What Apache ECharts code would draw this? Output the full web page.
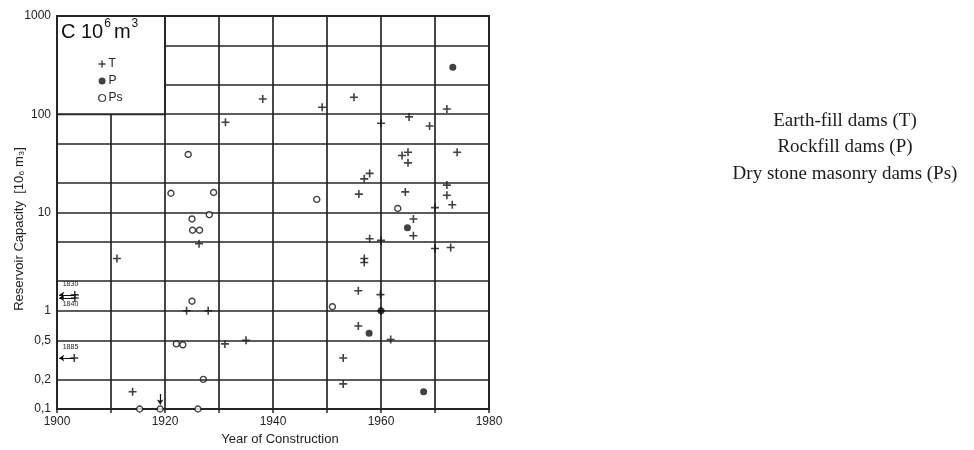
<!DOCTYPE html>
<html>
<head>
<meta charset="utf-8">
<script src="https://cdn.jsdelivr.net/npm/echarts@6/dist/echarts.min.js"></script>
<style>
  html, body { margin: 0; padding: 0; background: #ffffff; }
  #chart { width: 974px; height: 450px; }
</style>
</head>
<body>
<div id="chart"></div>
<script>
// Reservoir capacity (10^6 m3) against year of construction, by dam type.
// Each point: [year, capacity]
const earthFill = [
  [1903.3, 1.45], [1903.3, 1.35], [1903.2, 0.33],
  [1911.1, 3.4], [1914.0, 0.15],
  [1924.0, 1.0], [1928.0, 1.0], [1926.3, 4.8],
  [1931.1, 0.46], [1931.2, 83], [1935.0, 0.5], [1938.1, 143],
  [1949.1, 118],
  [1953.0, 0.33], [1953.0, 0.18],
  [1955.0, 149], [1955.8, 1.6], [1955.8, 0.70], [1955.9, 15.4],
  [1956.9, 22], [1957.9, 25], [1956.9, 3.4], [1956.9, 3.1], [1957.9, 5.4],
  [1959.9, 1.46], [1960.0, 1.0], [1960.0, 5.2], [1960.0, 81],
  [1961.8, 0.51],
  [1963.9, 38], [1965.0, 41], [1965.0, 32], [1964.5, 16.2], [1965.2, 94],
  [1966.0, 8.6], [1966.0, 5.8],
  [1969.0, 76], [1970.0, 11.2], [1970.0, 4.3],
  [1972.2, 113], [1972.2, 19], [1972.2, 15], [1973.2, 12], [1972.9, 4.4],
  [1974.1, 41]
];
const rockfill = [
  [1957.8, 0.59], [1960.0, 1.0], [1964.9, 7.0], [1967.9, 0.15], [1973.3, 300]
];
const dryStone = [
  [1915.3, 0.1], [1919.1, 0.1], [1926.1, 0.1], [1927.1, 0.2],
  [1922.1, 0.46], [1923.3, 0.45], [1925.0, 1.25],
  [1925.0, 8.6], [1925.1, 6.6], [1926.4, 6.6], [1928.2, 9.5],
  [1921.1, 15.7], [1929.0, 16], [1924.3, 39],
  [1948.1, 13.6], [1951.0, 1.1], [1963.1, 11]
];

// Dams older than the axis range: year written beside the point
const earlyDams = [
  { year: 1902.5, value: 1.85, label: '1830' },
  { year: 1902.5, value: 1.16, label: '1840' },
  { year: 1902.5, value: 0.43, label: '1885' }
];
// Arrows pointing back in time: [fromYear, toYear, value]
const earlyArrows = [
  [1903.3, 1900.4, 1.45],
  [1903.3, 1900.4, 1.35],
  [1903.2, 1900.4, 0.33]
];

// Axis setup
const yearMin = 1900, yearMax = 1980, yearStep = 10, yearLabelStep = 20;
const capMin = 0.1, capMax = 1000;
const intermediateLevels = [0.2, 0.5, 2, 5, 20, 50];
const upperLevels = [200, 500];
const labelledLevels = [0.2, 0.5];
const legendBox = [[1900, 100], [1920, 1000]];

const seriesNames = ['T', 'P', 'Ps'];
const sideNotes = ['Earth-fill dams (T)', 'Rockfill dams (P)', 'Dry stone masonry dams (Ps)'];

const ink = '#111111';
const gridInk = '#262626';
const plusPath = 'path://M4,0H6V4H10V6H6V10H4V6H0V4H4Z';
const fmt = v => String(v).replace('.', ',');

const chart = echarts.init(document.getElementById('chart'), null, { renderer: 'canvas' });

const levelLines = intermediateLevels.map(v => ({
  yAxis: v,
  label: labelledLevels.includes(v)
    ? { show: true, position: 'start', distance: 6, formatter: fmt(v),
        color: '#222', fontSize: 12, fontFamily: 'Liberation Sans, Arial, sans-serif' }
    : { show: false }
}));
const upperLines = upperLevels.map(v => [{ coord: [1920, v] }, { coord: [yearMax, v] }]);
const arrowLines = earlyArrows.map(a => [
  { coord: [a[0], a[2]], symbol: 'none', lineStyle: { width: 1, color: ink } },
  { coord: [a[1], a[2]], symbol: 'arrow', symbolSize: 5 }
]);
const dropArrow = [[
  { coord: [1919.1, 0.142], symbol: 'none', lineStyle: { width: 1.2, color: ink } },
  { coord: [1919.1, 0.111], symbol: 'arrow', symbolSize: 5 }
]];

chart.setOption({
  animation: false,
  backgroundColor: '#ffffff',
  grid: {
    left: 57, right: 485, top: 16, bottom: 41,
    show: true, borderColor: gridInk, borderWidth: 2, backgroundColor: 'transparent'
  },
  legend: {
    data: [
      { name: 'T', icon: plusPath, itemStyle: { color: ink } },
      { name: 'P', icon: 'circle', itemStyle: { color: ink } },
      { name: 'Ps', icon: 'circle', itemStyle: { color: '#fff', borderColor: ink, borderWidth: 1.2 } }
    ],
    orient: 'vertical', left: 93, top: 53,
    itemWidth: 7, itemHeight: 7, itemGap: 5,
    selectedMode: false,
    textStyle: { fontSize: 12, color: '#222', fontFamily: 'Liberation Sans, Arial, sans-serif', padding: [0, 0, 0, -2] }
  },
  xAxis: {
    type: 'value', min: yearMin, max: yearMax, interval: yearStep,
    axisLine: { show: true, lineStyle: { color: gridInk, width: 2 } },
    axisTick: { show: true, length: 4, lineStyle: { color: gridInk, width: 1.5 } },
    splitLine: { show: true, lineStyle: { color: gridInk, width: 1.7 } },
    axisLabel: {
      margin: 7, color: '#222', fontSize: 12, fontFamily: 'Liberation Sans, Arial, sans-serif',
      formatter: v => (v % yearLabelStep === 0 ? String(v) : '')
    }
  },
  yAxis: {
    type: 'log', logBase: 10, min: capMin, max: capMax,
    axisLine: { show: true, lineStyle: { color: gridInk, width: 2 } },
    axisTick: { show: false },
    splitLine: { show: true, lineStyle: { color: gridInk, width: 1.7 } },
    axisLabel: {
      margin: 6, color: '#222', fontSize: 12, fontFamily: 'Liberation Sans, Arial, sans-serif',
      formatter: v => fmt(+v.toPrecision(6))
    }
  },
  series: [
    {
      name: 'T', type: 'scatter', data: earthFill, clip: false,
      symbol: plusPath, symbolSize: 8,
      itemStyle: { color: ink },
      markArea: {
        silent: true,
        itemStyle: { color: '#ffffff', borderColor: gridInk, borderWidth: 2 },
        data: [[{ coord: legendBox[0] }, { coord: legendBox[1] }]]
      },
      markLine: {
        silent: true, symbol: 'none',
        lineStyle: { color: gridInk, width: 1.7, type: 'solid' },
        label: { show: false },
        data: [...levelLines, ...upperLines, ...arrowLines, ...dropArrow]
      },
      markPoint: {
        silent: true, symbol: 'circle', symbolSize: 1,
        itemStyle: { color: 'rgba(0,0,0,0)' },
        label: { show: true, position: 'inside', formatter: p => p.data.label,
                 fontSize: 7, color: '#222', fontFamily: 'Liberation Sans, Arial, sans-serif' },
        data: earlyDams.map(d => ({ coord: [d.year, d.value], label: d.label }))
      }
    },
    {
      name: 'P', type: 'scatter', data: rockfill, clip: false,
      symbol: 'circle', symbolSize: 7,
      itemStyle: { color: ink }
    },
    {
      name: 'Ps', type: 'scatter', data: dryStone, clip: false,
      symbol: 'circle', symbolSize: 6,
      itemStyle: { color: '#ffffff', borderColor: ink, borderWidth: 1.4 }
    }
  ],
  graphic: [
    {
      type: 'text', left: 61, top: 18, z: 100,
      style: {
        text: '{a|C 10}{s|6}{a|m}{s|3}',
        rich: {
          a: { fontSize: 20, fontFamily: 'Liberation Sans, Arial, sans-serif', fill: '#111', lineHeight: 24, verticalAlign: 'bottom' },
          s: { fontSize: 12, fontFamily: 'Liberation Sans, Arial, sans-serif', fill: '#111', lineHeight: 24, verticalAlign: 'top', padding: [0, 3, 0, 1] }
        }
      }
    },
    {
      type: 'text', x: 19, y: 229, rotation: Math.PI / 2, z: 100,
      style: {
        text: 'Reservoir Capacity  [10\u2086 m\u2083]',
        fontSize: 13, fontFamily: 'Liberation Sans, Arial, sans-serif', fill: '#222',
        textAlign: 'center', textVerticalAlign: 'middle'
      }
    },
    {
      type: 'text', x: 280, y: 439, z: 100,
      style: {
        text: 'Year of Construction',
        fontSize: 13, fontFamily: 'Liberation Sans, Arial, sans-serif', fill: '#222',
        textAlign: 'center', textVerticalAlign: 'middle'
      }
    },
    ...sideNotes.map((t, i) => ({
      type: 'text', x: 845, y: 121 + i * 26.5, z: 100,
      style: {
        text: t, fontSize: 19, fontFamily: 'Liberation Serif, Times New Roman, serif', fill: '#1a1a1a',
        textAlign: 'center', textVerticalAlign: 'middle'
      }
    }))
  ]
});
</script>
</body>
</html>
